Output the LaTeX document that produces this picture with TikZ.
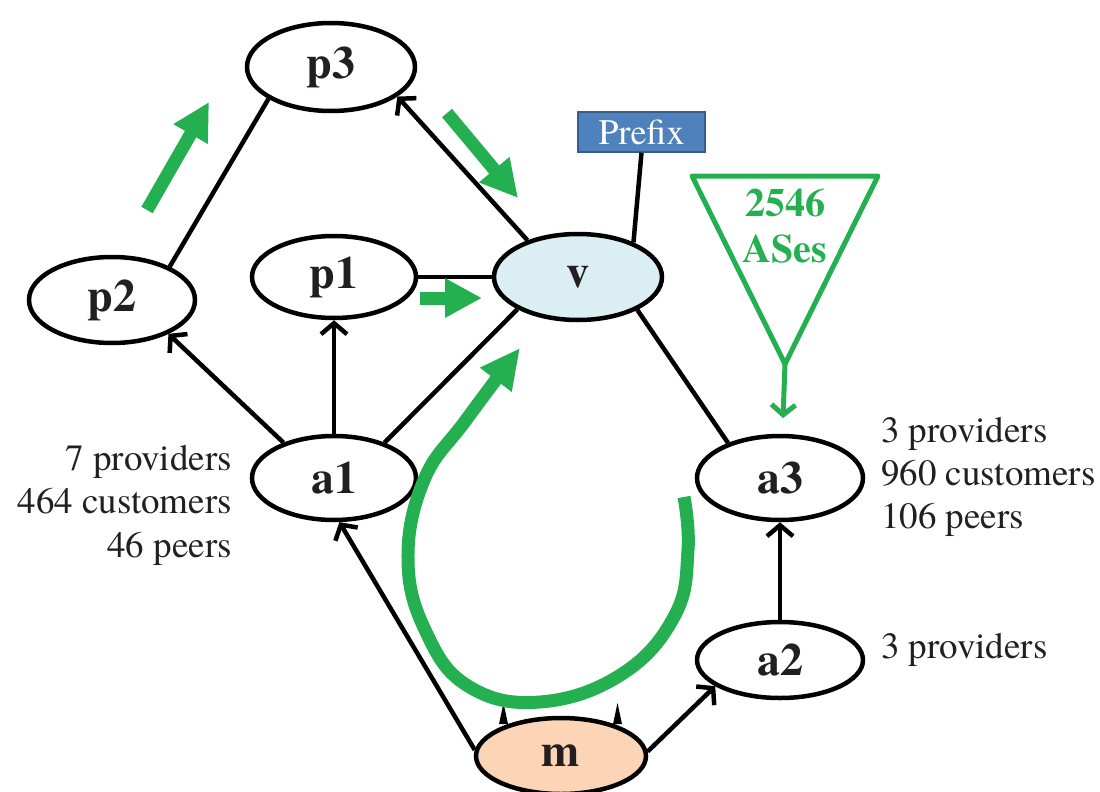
\documentclass[tikz,border=0pt]{standalone}
\usepackage{fontspec}
\newfontfamily\timesfont{texgyretermes}[Extension=.otf, UprightFont=*-regular, BoldFont=*-bold]
\usetikzlibrary{shapes.geometric,arrows.meta}
\definecolor{ink}{RGB}{35,31,32}
\definecolor{flowgreen}{RGB}{36,176,80}
\definecolor{vfill}{RGB}{219,238,244}
\definecolor{mfill}{RGB}{251,213,181}
\definecolor{prefixblue}{RGB}{79,129,189}
\definecolor{prefixedge}{RGB}{56,93,138}

\begin{document}
\begin{tikzpicture}[x=1pt,y=-1pt,
  as/.style={ellipse, draw=black, line width=4.5pt, fill=white, inner sep=0pt,
    font=\timesfont\fontsize{46}{46}\selectfont\bfseries, text=ink},
  link/.style={line width=4.5pt},
  rel/.style={line width=4.5pt, -{Straight Barb[length=11pt,width=26pt]}},
  flow/.style={line width=13pt, draw=flowgreen, -{Triangle[length=37pt,width=37pt,fill=flowgreen]}},
  info/.style={font=\timesfont\fontsize{37}{43}\selectfont, text=ink, inner sep=0pt},
  count/.style={font=\timesfont\fontsize{40}{40}\selectfont\bfseries, text=flowgreen, inner sep=0pt, anchor=base},
]
\useasboundingbox (0,0) rectangle (1100,792);

% autonomous systems
\node[as, minimum width=168pt, minimum height=88pt] (p3) at (331,67) {p3};
\node[as, minimum width=166pt, minimum height=86pt] (p2) at (112,300) {p2};
\node[as, minimum width=164pt, minimum height=82pt] (p1) at (334,277) {p1};
\node[as, fill=vfill, minimum width=168pt, minimum height=86pt] (v) at (578,277) {v};
\node[as, minimum width=164pt, minimum height=84pt] (a1) at (334,478) {a1};
\node[as, minimum width=166pt, minimum height=84pt] (a3) at (780,478) {a3};
\node[as, minimum width=166pt, minimum height=76pt] (a2) at (780,660) {a2};
\node[as, fill=mfill, minimum width=170pt, minimum height=76pt] (m) at (561,756) {m};

% announced prefix
\node[rectangle, fill=prefixblue, draw=prefixedge, line width=1.5pt, text=white,
  font=\timesfont\fontsize{36}{36}\selectfont, minimum width=127pt, minimum height=40pt,
  inner sep=0pt] (prefix) at (641.5,132) {Prefix};
\draw[link] (prefix.south) -- (v.32);

% links and customer-to-provider relations
\draw[rel] (v.144) -- (p3.-24);
\draw[link] (p2.30) -- (p3.207);
\draw[link] (p1) -- (v);
\draw[rel] (a1.145) -- (p2.-31);
\draw[rel] (a1) -- (p1);
\draw[link] (a1.35) -- (v.208);
\draw[link] (v.-29) -- (a3.146);
\draw[rel] (m.176) -- (a1.-83);
\draw[rel] (m.3) -- (a2.-158);
\draw[rel] (a2) -- (a3);

% small spikes on top of m
\fill (499,724) -- (503.5,703) -- (508,724) -- cycle;
\fill (613,724) -- (617.5,703) -- (622,724) -- cycle;

% neighbour statistics
\node[info, anchor=base east] (a1prov) at (232,470) {7 providers};
\node[info, anchor=base east] (a1cust) at (232,513) {464 customers};
\node[info, anchor=base east] (a1peer) at (232,557) {46 peers};
\node[info, anchor=base west] (a3prov) at (881,442) {3 providers};
\node[info, anchor=base west] (a3cust) at (881,485) {960 customers};
\node[info, anchor=base west] (a3peer) at (881,528) {106 peers};
\node[info, anchor=base west] (a2prov) at (881,658) {3 providers};

% route propagation arrows
\coordinate (g1s) at (147,210);  \coordinate (g1e) at (209,102);
\coordinate (g2s) at (447,113);  \coordinate (g2e) at (518,198);
\coordinate (g3s) at (420,298);  \coordinate (g3e) at (482,298);
\draw[flow] (g1s) -- (g1e);
\draw[flow] (g2s) -- (g2e);
\draw[flow] (g3s) -- (g3e);
\draw[flow, line width=13pt, -{Triangle[length=40pt,width=37pt,fill=flowgreen]}]
  plot[smooth, tension=0.7] coordinates {(684,497) (688,550) (675,615) (622,674)
    (540,702) (468,686) (426,632) (408,560) (424,480) (466,420) (520,348)};

% customer cone of a3
\coordinate (tl) at (692,176);
\coordinate (tr) at (878,176);
\coordinate (apex) at (785,364);
\coordinate (apexend) at (783,418);
\draw[flowgreen, line width=5pt, line join=round] (tl) -- (tr) -- (apex) -- cycle;
\draw[flowgreen, line width=5pt, -{Straight Barb[length=10pt,width=24pt]}] (apex) -- (apexend);
\node[count] (cnum) at (785,216) {2546};
\node[count] (clabel) at (785,262) {ASes};
\end{tikzpicture}
\end{document}
